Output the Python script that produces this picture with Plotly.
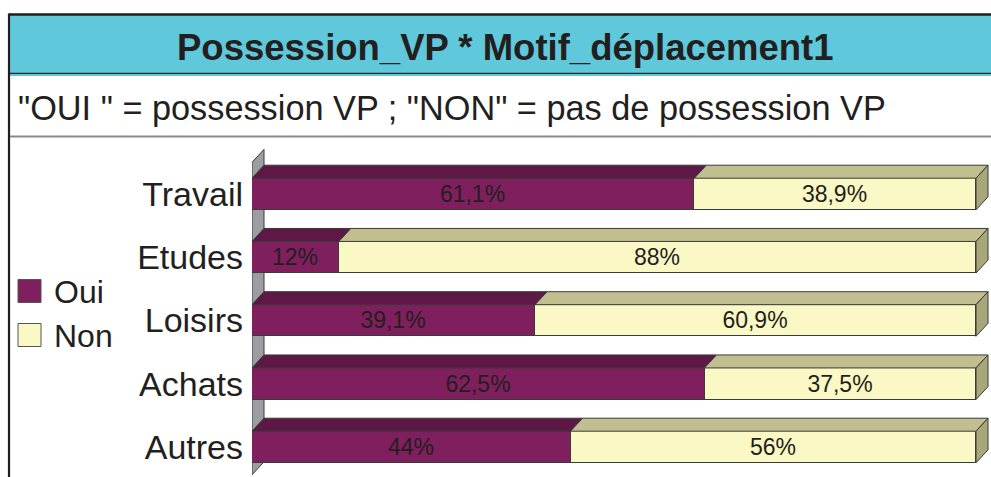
import plotly.graph_objects as go

# Data
motifs = ["Travail", "Etudes", "Loisirs", "Achats", "Autres"]
oui = [61.1, 12, 39.1, 62.5, 44]
non = [38.9, 88, 60.9, 37.5, 56]
series_names = ["Oui", "Non"]

W, H = 991, 477
FONT = "Liberation Sans, Arial, sans-serif"
INK = "#231f20"

PURPLE = "#7f1f5d"
PURPLE_TOP = "#5e1845"
CREAM = "#faf8c4"
CREAM_TOP = "#c1bf90"
CREAM_SIDE = "#a8a77a"
EDGE = "#3a3a3a"

# Plot area geometry (pixels)
PX_LEFT, PX_RIGHT = 252, 990.5
PX_TOP, PX_BOTTOM = 140, 477
X_MAX = 102.0
px_per_x = (PX_RIGHT - PX_LEFT) / X_MAX
row_px = 63.25
first_center_px = 194
y_top_val = -(first_center_px - PX_TOP) / row_px
y_bot_val = (len(motifs) - 1) + (PX_BOTTOM - (first_center_px + row_px * (len(motifs) - 1))) / row_px

# 3D depth offset expressed in axis units
DX = 12 / px_per_x
DY = 13 / row_px
BAR_W = 0.5
ypos = list(range(len(motifs)))


def px(x):
    return x / W


def py(y):
    return 1 - y / H


def fmt(v):
    return f"{v:g}".replace(".", ",") + "%"


fig = go.Figure()
for name, vals, color in [(series_names[0], oui, PURPLE), (series_names[1], non, CREAM)]:
    fig.add_trace(go.Bar(
        name=name, y=ypos, x=vals, orientation="h", width=BAR_W,
        marker=dict(color=color, line=dict(color=EDGE, width=1)),
        text=[fmt(v) for v in vals], textposition="inside",
        insidetextanchor="middle", constraintext="none",
        textfont=dict(family=FONT, size=23, color=INK),
        showlegend=False, hoverinfo="skip",
    ))

shapes = []


def poly(pts, fill, layer="below", xref="x", yref="y", lw=1, lc=EDGE):
    path = "M " + " L ".join(f"{a},{b}" for a, b in pts) + " Z"
    shapes.append(dict(type="path", path=path, xref=xref, yref=yref,
                       fillcolor=fill, line=dict(color=lc, width=lw), layer=layer))


# Side wall of the 3D frame
wall_top, wall_bot = -0.5, len(motifs) - 0.56
poly([(0, wall_bot), (0, wall_top), (DX, wall_top - DY), (DX, wall_bot - DY)], "#9c9da1")

# Top faces and right-hand side face of each bar
for i, (o, n) in enumerate(zip(oui, non)):
    top = i - BAR_W / 2
    bot = i + BAR_W / 2
    poly([(0, top), (o, top), (o + DX, top - DY), (DX, top - DY)], PURPLE_TOP, layer="above")
    end = o + n
    poly([(o, top), (end, top), (end + DX, top - DY), (o + DX, top - DY)], CREAM_TOP, layer="above")
    poly([(end, top), (end + DX, top - DY), (end + DX, bot - DY), (end, bot)], CREAM_SIDE, layer="above")

# Frame: title band, borders, separator
shapes.append(dict(type="rect", xref="paper", yref="paper", x0=px(10), x1=1, y0=py(76), y1=py(15),
                   fillcolor="#5fc8da", line=dict(width=0), layer="below"))
shapes.append(dict(type="line", xref="paper", yref="paper", x0=px(10), x1=1, y0=py(73.3), y1=py(73.3),
                   line=dict(color="#2a2a2a", width=1.2)))
shapes.append(dict(type="line", xref="paper", yref="paper", x0=px(9), x1=1, y0=py(14.5), y1=py(14.5),
                   line=dict(color="#1e1e1e", width=2.5)))
shapes.append(dict(type="line", xref="paper", yref="paper", x0=px(9), x1=px(9), y0=0, y1=py(13.5),
                   line=dict(color="#1e1e1e", width=2.2)))
shapes.append(dict(type="line", xref="paper", yref="paper", x0=px(10), x1=1, y0=py(136.6), y1=py(136.6),
                   line=dict(color="#8a8a8a", width=2)))

# Legend swatches
annotations = []
for k, (name, color) in enumerate([(series_names[0], PURPLE), (series_names[1], CREAM)]):
    cy = 291 + 44 * k
    shapes.append(dict(type="rect", xref="paper", yref="paper",
                       x0=px(18), x1=px(41), y0=py(cy + 11.5), y1=py(cy - 11.5),
                       fillcolor=color, line=dict(color="#555555", width=1)))
    annotations.append(dict(text=name, xref="paper", yref="paper", x=px(52), y=py(cy + 1),
                            xanchor="left", yanchor="middle", showarrow=False,
                            font=dict(family=FONT, size=32, color=INK)))

annotations.append(dict(text="<b>Possession_VP * Motif_déplacement1</b>", xref="paper", yref="paper",
                        x=px(505), y=py(47), xanchor="center", yanchor="middle", showarrow=False,
                        font=dict(family=FONT, size=36.5, color=INK)))
annotations.append(dict(text='"OUI " = possession VP ; "NON" = pas de possession VP', xref="paper",
                        yref="paper", x=px(16), y=py(108), xanchor="left", yanchor="middle",
                        showarrow=False, font=dict(family=FONT, size=34.3, color=INK)))

fig.update_layout(
    width=W, height=H, margin=dict(l=0, r=0, t=0, b=0),
    paper_bgcolor="white", plot_bgcolor="rgba(0,0,0,0)",
    barmode="stack", bargap=0, shapes=shapes, annotations=annotations,
    showlegend=False,
    xaxis=dict(domain=[px(PX_LEFT), px(PX_RIGHT)], range=[0, X_MAX], visible=False, fixedrange=True),
    yaxis=dict(domain=[py(PX_BOTTOM), py(PX_TOP)], range=[y_bot_val, y_top_val],
               tickvals=ypos, ticktext=motifs, ticks="", showgrid=False, zeroline=False,
               showline=False, ticklabelstandoff=8,
               tickfont=dict(family=FONT, size=34, color=INK), fixedrange=True),
)

fig.write_html("out.html")
